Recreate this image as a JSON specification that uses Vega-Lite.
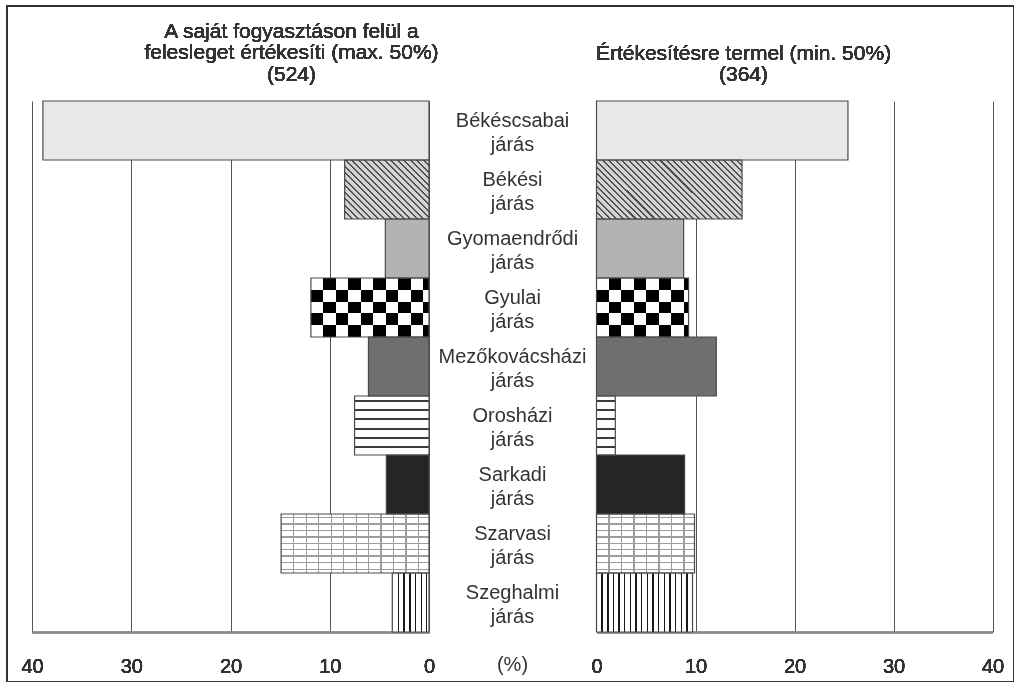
{
  "$schema": "https://vega.github.io/schema/vega-lite/v6.json",
  "width": 1007,
  "height": 676,
  "autosize": {"type": "none"},
  "padding": {"left": 7, "top": 6, "right": 0, "bottom": 0},
  "background": "white",
  "config": {"view": {"stroke": "#333333", "strokeWidth": 2}, "font": "Liberation Sans"},
  "data": {"values": [
    {"jaras": "Békéscsabai járás", "left": 38.9, "right": 25.4},
    {"jaras": "Békési járás", "left": 8.5, "right": 14.7},
    {"jaras": "Gyomaendrődi járás", "left": 4.4, "right": 8.8},
    {"jaras": "Gyulai járás", "left": 11.9, "right": 9.3},
    {"jaras": "Mezőkovácsházi járás", "left": 6.1, "right": 12.1},
    {"jaras": "Orosházi járás", "left": 7.5, "right": 1.9},
    {"jaras": "Sarkadi járás", "left": 4.3, "right": 8.9},
    {"jaras": "Szarvasi járás", "left": 14.9, "right": 9.9},
    {"jaras": "Szeghalmi járás", "left": 3.7, "right": 9.7}
  ]},
  "encoding": {
    "y": {
      "field": "jaras", "type": "nominal", "sort": null,
      "scale": {"domain": ["Békéscsabai járás","Békési járás","Gyomaendrődi járás","Gyulai járás","Mezőkovácsházi járás","Orosházi járás","Sarkadi járás","Szarvasi járás","Szeghalmi járás"], "range": [95, 626], "paddingInner": 0, "paddingOuter": 0},
      "axis": {"orient": "left", "offset": -505, "domain": false, "ticks": false, "tickSize": 0, "grid": false,
        "labelAlign": "center", "labelBaseline": "middle", "labelPadding": 0, "labelOffset": -9.5,
        "labelFont": "Liberation Sans", "labelFontSize": 20, "labelColor": "#333333", "labelLineHeight": 23.5,
        "labelExpr": "split(datum.label, ' ')", "labelOverlap": false, "labelBound": false, "labelLimit": 0,
        "title": "(%)", "titleX": 0, "titleY": 658, "titleAngle": 0, "titleAlign": "center", "titleBaseline": "middle",
        "titleFont": "Liberation Sans", "titleFontSize": 20, "titleFontWeight": "normal", "titleColor": "#333333"}
    }
  },
  "resolve": {"scale": {"x": "independent"}},
  "layer": [
    {
      "encoding": {
        "x": {"field": "left", "type": "quantitative", "stack": null,
          "scale": {"domain": [0, 40], "range": [422, 25], "nice": false, "zero": true},
          "axis": {"orient": "bottom", "offset": -50, "values": [0, 10, 20, 30, 40], "grid": false,
            "domain": true, "domainColor": "#8a8a8a", "domainWidth": 1.5, "ticks": false, "tickSize": 0, "labelFlush": false,
            "labelFont": "Liberation Sans", "labelFontSize": 20, "labelColor": "#333333", "labelPadding": 24,
            "title": ["A saját fogyasztáson felül a", "felesleget értékesíti (max. 50%)", "(524)"],
            "titleX": 284, "titleY": -601, "titleAlign": "center", "titleBaseline": "middle", "titleFont": "Liberation Sans",
            "titleFontSize": 21, "titleFontWeight": "normal", "titleColor": "#333333", "titleLineHeight": 21.5}
        }
      },
      "resolve": {"axis": {"x": "independent"}},
      "layer": [
        {"mark": {"type": "bar"},
         "encoding": {"color": {"field": "jaras", "type": "nominal", "legend": null,
           "scale": {"domain": ["Békéscsabai járás","Békési járás","Gyomaendrődi járás","Gyulai járás","Mezőkovácsházi járás","Orosházi járás","Sarkadi járás","Szarvasi járás","Szeghalmi járás"],
                     "range": ["#e8e8e8","#d2d2d2","#b3b3b3","#ffffff","#6f6f6f","#ffffff","#252525","#ffffff","#ffffff"]}}}},
        {"transform": [{"filter": {"field": "jaras", "equal": "Békési járás"}}],
         "mark": {"type": "bar", "fill": {"gradient": "linear", "x1": 0, "y1": 1, "x2": 1.141, "y2": 0.202, "stops": [
           {"offset":0,"color":"#505050"},{"offset":0.014,"color":"#505050"},{"offset":0.014,"color":"#d2d2d2"},{"offset":0.045,"color":"#d2d2d2"},
           {"offset":0.045,"color":"#505050"},{"offset":0.059,"color":"#505050"},{"offset":0.059,"color":"#d2d2d2"},{"offset":0.091,"color":"#d2d2d2"},
           {"offset":0.091,"color":"#505050"},{"offset":0.105,"color":"#505050"},{"offset":0.105,"color":"#d2d2d2"},{"offset":0.136,"color":"#d2d2d2"},
           {"offset":0.136,"color":"#505050"},{"offset":0.150,"color":"#505050"},{"offset":0.150,"color":"#d2d2d2"},{"offset":0.182,"color":"#d2d2d2"},
           {"offset":0.182,"color":"#505050"},{"offset":0.196,"color":"#505050"},{"offset":0.196,"color":"#d2d2d2"},{"offset":0.227,"color":"#d2d2d2"},
           {"offset":0.227,"color":"#505050"},{"offset":0.241,"color":"#505050"},{"offset":0.241,"color":"#d2d2d2"},{"offset":0.273,"color":"#d2d2d2"},
           {"offset":0.273,"color":"#505050"},{"offset":0.287,"color":"#505050"},{"offset":0.287,"color":"#d2d2d2"},{"offset":0.318,"color":"#d2d2d2"},
           {"offset":0.318,"color":"#505050"},{"offset":0.332,"color":"#505050"},{"offset":0.332,"color":"#d2d2d2"},{"offset":0.364,"color":"#d2d2d2"},
           {"offset":0.364,"color":"#505050"},{"offset":0.378,"color":"#505050"},{"offset":0.378,"color":"#d2d2d2"},{"offset":0.409,"color":"#d2d2d2"},
           {"offset":0.409,"color":"#505050"},{"offset":0.423,"color":"#505050"},{"offset":0.423,"color":"#d2d2d2"},{"offset":0.455,"color":"#d2d2d2"},
           {"offset":0.455,"color":"#505050"},{"offset":0.469,"color":"#505050"},{"offset":0.469,"color":"#d2d2d2"},{"offset":0.5,"color":"#d2d2d2"},
           {"offset":0.5,"color":"#505050"},{"offset":0.514,"color":"#505050"},{"offset":0.514,"color":"#d2d2d2"},{"offset":0.545,"color":"#d2d2d2"},
           {"offset":0.545,"color":"#505050"},{"offset":0.559,"color":"#505050"},{"offset":0.559,"color":"#d2d2d2"},{"offset":0.591,"color":"#d2d2d2"},
           {"offset":0.591,"color":"#505050"},{"offset":0.605,"color":"#505050"},{"offset":0.605,"color":"#d2d2d2"},{"offset":0.636,"color":"#d2d2d2"},
           {"offset":0.636,"color":"#505050"},{"offset":0.650,"color":"#505050"},{"offset":0.650,"color":"#d2d2d2"},{"offset":0.682,"color":"#d2d2d2"},
           {"offset":0.682,"color":"#505050"},{"offset":0.696,"color":"#505050"},{"offset":0.696,"color":"#d2d2d2"},{"offset":0.727,"color":"#d2d2d2"},
           {"offset":0.727,"color":"#505050"},{"offset":0.741,"color":"#505050"},{"offset":0.741,"color":"#d2d2d2"},{"offset":0.773,"color":"#d2d2d2"},
           {"offset":0.773,"color":"#505050"},{"offset":0.787,"color":"#505050"},{"offset":0.787,"color":"#d2d2d2"},{"offset":0.818,"color":"#d2d2d2"},
           {"offset":0.818,"color":"#505050"},{"offset":0.832,"color":"#505050"},{"offset":0.832,"color":"#d2d2d2"},{"offset":0.864,"color":"#d2d2d2"},
           {"offset":0.864,"color":"#505050"},{"offset":0.878,"color":"#505050"},{"offset":0.878,"color":"#d2d2d2"},{"offset":0.909,"color":"#d2d2d2"},
           {"offset":0.909,"color":"#505050"},{"offset":0.923,"color":"#505050"},{"offset":0.923,"color":"#d2d2d2"},{"offset":0.955,"color":"#d2d2d2"},
           {"offset":0.955,"color":"#505050"},{"offset":0.969,"color":"#505050"},{"offset":0.969,"color":"#d2d2d2"},{"offset":1,"color":"#d2d2d2"}
         ]}}},
        {"transform": [{"filter": {"field": "jaras", "equal": "Gyulai járás"}}],
         "mark": {"type": "bar", "fill": {"gradient": "linear", "x1": 0, "y1": 0, "x2": 1, "y2": 0, "stops": [
           {"offset":0,"color":"#ffffff"},{"offset":0.106,"color":"#ffffff"},{"offset":0.106,"color":"#000000"},{"offset":0.212,"color":"#000000"},
           {"offset":0.212,"color":"#ffffff"},{"offset":0.318,"color":"#ffffff"},{"offset":0.318,"color":"#000000"},{"offset":0.423,"color":"#000000"},
           {"offset":0.423,"color":"#ffffff"},{"offset":0.529,"color":"#ffffff"},{"offset":0.529,"color":"#000000"},{"offset":0.635,"color":"#000000"},
           {"offset":0.635,"color":"#ffffff"},{"offset":0.741,"color":"#ffffff"},{"offset":0.741,"color":"#000000"},{"offset":0.847,"color":"#000000"},
           {"offset":0.847,"color":"#ffffff"},{"offset":0.952,"color":"#ffffff"},{"offset":0.952,"color":"#000000"},{"offset":1,"color":"#000000"}
         ]}}},
        {"transform": [{"filter": {"field": "jaras", "equal": "Gyulai járás"}}],
         "mark": {"type": "bar", "blend": "difference", "fill": {"gradient": "linear", "x1": 0, "y1": 0, "x2": 0, "y2": 1, "stops": [
           {"offset":0,"color":"rgba(255,255,255,0)"},{"offset":0.2,"color":"rgba(255,255,255,0)"},{"offset":0.2,"color":"#ffffff"},{"offset":0.4,"color":"#ffffff"},
           {"offset":0.4,"color":"rgba(255,255,255,0)"},{"offset":0.6,"color":"rgba(255,255,255,0)"},{"offset":0.6,"color":"#ffffff"},{"offset":0.8,"color":"#ffffff"},
           {"offset":0.8,"color":"rgba(255,255,255,0)"},{"offset":1,"color":"rgba(255,255,255,0)"}
         ]}}},
        {"transform": [{"filter": {"field": "jaras", "equal": "Orosházi járás"}}],
         "mark": {"type": "bar", "fill": {"gradient": "linear", "x1": 0, "y1": 0, "x2": 0, "y2": 1, "stops": [
           {"offset":0,"color":"#ffffff"},{"offset":0.068,"color":"#ffffff"},{"offset":0.068,"color":"#3c3c3c"},{"offset":0.102,"color":"#3c3c3c"},
           {"offset":0.102,"color":"#ffffff"},{"offset":0.224,"color":"#ffffff"},{"offset":0.224,"color":"#3c3c3c"},{"offset":0.258,"color":"#3c3c3c"},
           {"offset":0.258,"color":"#ffffff"},{"offset":0.380,"color":"#ffffff"},{"offset":0.380,"color":"#3c3c3c"},{"offset":0.414,"color":"#3c3c3c"},
           {"offset":0.414,"color":"#ffffff"},{"offset":0.536,"color":"#ffffff"},{"offset":0.536,"color":"#3c3c3c"},{"offset":0.570,"color":"#3c3c3c"},
           {"offset":0.570,"color":"#ffffff"},{"offset":0.691,"color":"#ffffff"},{"offset":0.691,"color":"#3c3c3c"},{"offset":0.725,"color":"#3c3c3c"},
           {"offset":0.725,"color":"#ffffff"},{"offset":0.847,"color":"#ffffff"},{"offset":0.847,"color":"#3c3c3c"},{"offset":0.881,"color":"#3c3c3c"},
           {"offset":0.881,"color":"#ffffff"},{"offset":1,"color":"#ffffff"}
         ]}}},
        {"transform": [{"filter": {"field": "jaras", "equal": "Szarvasi járás"}}],
         "mark": {"type": "bar", "fill": {"gradient": "linear", "x1": 0, "y1": 0, "x2": 0, "y2": 1, "stops": [
           {"offset":0,"color":"#ffffff"},{"offset":0.046,"color":"#ffffff"},{"offset":0.046,"color":"#9d9d9d"},{"offset":0.068,"color":"#9d9d9d"},
           {"offset":0.068,"color":"#ffffff"},{"offset":0.160,"color":"#ffffff"},{"offset":0.160,"color":"#9d9d9d"},{"offset":0.182,"color":"#9d9d9d"},
           {"offset":0.182,"color":"#ffffff"},{"offset":0.268,"color":"#ffffff"},{"offset":0.268,"color":"#9d9d9d"},{"offset":0.290,"color":"#9d9d9d"},
           {"offset":0.290,"color":"#ffffff"},{"offset":0.378,"color":"#ffffff"},{"offset":0.378,"color":"#9d9d9d"},{"offset":0.400,"color":"#9d9d9d"},
           {"offset":0.400,"color":"#ffffff"},{"offset":0.486,"color":"#ffffff"},{"offset":0.486,"color":"#9d9d9d"},{"offset":0.508,"color":"#9d9d9d"},
           {"offset":0.508,"color":"#ffffff"},{"offset":0.593,"color":"#ffffff"},{"offset":0.593,"color":"#9d9d9d"},{"offset":0.615,"color":"#9d9d9d"},
           {"offset":0.615,"color":"#ffffff"},{"offset":0.703,"color":"#ffffff"},{"offset":0.703,"color":"#9d9d9d"},{"offset":0.725,"color":"#9d9d9d"},
           {"offset":0.725,"color":"#ffffff"},{"offset":0.816,"color":"#ffffff"},{"offset":0.816,"color":"#9d9d9d"},{"offset":0.838,"color":"#9d9d9d"},
           {"offset":0.838,"color":"#ffffff"},{"offset":0.931,"color":"#ffffff"},{"offset":0.931,"color":"#9d9d9d"},{"offset":0.953,"color":"#9d9d9d"},
           {"offset":0.953,"color":"#ffffff"},{"offset":1,"color":"#ffffff"}
         ]}}},
        {"transform": [{"filter": {"field": "jaras", "equal": "Szarvasi járás"}}],
         "mark": {"type": "bar", "fill": {"gradient": "linear", "x1": 0, "y1": 0, "x2": 1, "y2": 0, "stops": [
           {"offset":0,"color":"rgba(157,157,157,0)"},{"offset":0.080,"color":"rgba(157,157,157,0)"},{"offset":0.080,"color":"#9d9d9d"},{"offset":0.089,"color":"#9d9d9d"},
           {"offset":0.089,"color":"rgba(157,157,157,0)"},{"offset":0.165,"color":"rgba(157,157,157,0)"},{"offset":0.165,"color":"#9d9d9d"},{"offset":0.174,"color":"#9d9d9d"},
           {"offset":0.174,"color":"rgba(157,157,157,0)"},{"offset":0.249,"color":"rgba(157,157,157,0)"},{"offset":0.249,"color":"#9d9d9d"},{"offset":0.258,"color":"#9d9d9d"},
           {"offset":0.258,"color":"rgba(157,157,157,0)"},{"offset":0.334,"color":"rgba(157,157,157,0)"},{"offset":0.334,"color":"#9d9d9d"},{"offset":0.343,"color":"#9d9d9d"},
           {"offset":0.343,"color":"rgba(157,157,157,0)"},{"offset":0.418,"color":"rgba(157,157,157,0)"},{"offset":0.418,"color":"#9d9d9d"},{"offset":0.427,"color":"#9d9d9d"},
           {"offset":0.427,"color":"rgba(157,157,157,0)"},{"offset":0.503,"color":"rgba(157,157,157,0)"},{"offset":0.503,"color":"#9d9d9d"},{"offset":0.512,"color":"#9d9d9d"},
           {"offset":0.512,"color":"rgba(157,157,157,0)"},{"offset":0.587,"color":"rgba(157,157,157,0)"},{"offset":0.587,"color":"#9d9d9d"},{"offset":0.596,"color":"#9d9d9d"},
           {"offset":0.596,"color":"rgba(157,157,157,0)"},{"offset":0.672,"color":"rgba(157,157,157,0)"},{"offset":0.672,"color":"#9d9d9d"},{"offset":0.681,"color":"#9d9d9d"},
           {"offset":0.681,"color":"rgba(157,157,157,0)"},{"offset":0.756,"color":"rgba(157,157,157,0)"},{"offset":0.756,"color":"#9d9d9d"},{"offset":0.765,"color":"#9d9d9d"},
           {"offset":0.765,"color":"rgba(157,157,157,0)"},{"offset":0.841,"color":"rgba(157,157,157,0)"},{"offset":0.841,"color":"#9d9d9d"},{"offset":0.850,"color":"#9d9d9d"},
           {"offset":0.850,"color":"rgba(157,157,157,0)"},{"offset":0.925,"color":"rgba(157,157,157,0)"},{"offset":0.925,"color":"#9d9d9d"},{"offset":0.934,"color":"#9d9d9d"},
           {"offset":0.934,"color":"rgba(157,157,157,0)"},{"offset":1,"color":"rgba(157,157,157,0)"}
         ]}}},
        {"transform": [{"filter": {"field": "jaras", "equal": "Szeghalmi járás"}}],
         "mark": {"type": "bar", "fill": {"gradient": "linear", "x1": 0, "y1": 0, "x2": 1, "y2": 0, "stops": [
           {"offset":0,"color":"#ffffff"},{"offset":0.145,"color":"#ffffff"},{"offset":0.145,"color":"#1a1a1a"},{"offset":0.181,"color":"#1a1a1a"},
           {"offset":0.181,"color":"#ffffff"},{"offset":0.301,"color":"#ffffff"},{"offset":0.301,"color":"#1a1a1a"},{"offset":0.337,"color":"#1a1a1a"},
           {"offset":0.337,"color":"#ffffff"},{"offset":0.464,"color":"#ffffff"},{"offset":0.464,"color":"#1a1a1a"},{"offset":0.500,"color":"#1a1a1a"},
           {"offset":0.500,"color":"#ffffff"},{"offset":0.620,"color":"#ffffff"},{"offset":0.620,"color":"#1a1a1a"},{"offset":0.656,"color":"#1a1a1a"},
           {"offset":0.656,"color":"#ffffff"},{"offset":0.772,"color":"#ffffff"},{"offset":0.772,"color":"#1a1a1a"},{"offset":0.808,"color":"#1a1a1a"},
           {"offset":0.808,"color":"#ffffff"},{"offset":0.919,"color":"#ffffff"},{"offset":0.919,"color":"#1a1a1a"},{"offset":0.955,"color":"#1a1a1a"},
           {"offset":0.955,"color":"#ffffff"},{"offset":1,"color":"#ffffff"}
         ]}}},
        {"mark": {"type": "bar", "fill": "transparent", "stroke": "#4a4a4a", "strokeWidth": 1.2},
         "encoding": {"x": {"field": "left", "type": "quantitative", "stack": null,
           "axis": {"orient": "top", "values": [0, 10, 20, 30, 40], "grid": true, "gridColor": "#555555", "gridWidth": 1,
             "domain": false, "ticks": false, "labels": false, "title": null, "offset": 0}}}}
      ]
    },
    {
      "encoding": {
        "x": {"field": "right", "type": "quantitative", "stack": null,
          "scale": {"domain": [0, 40], "range": [589.5, 985.5], "nice": false, "zero": true},
          "axis": {"orient": "bottom", "offset": -50, "values": [0, 10, 20, 30, 40], "grid": false,
            "domain": true, "domainColor": "#8a8a8a", "domainWidth": 1.5, "ticks": false, "tickSize": 0, "labelFlush": false,
            "labelFont": "Liberation Sans", "labelFontSize": 20, "labelColor": "#333333", "labelPadding": 24,
            "title": ["Értékesítésre termel (min. 50%)", "(364)"],
            "titleX": 736, "titleY": -579, "titleAlign": "center", "titleBaseline": "middle", "titleFont": "Liberation Sans",
            "titleFontSize": 21, "titleFontWeight": "normal", "titleColor": "#333333", "titleLineHeight": 21.5}
        }
      },
      "resolve": {"axis": {"x": "independent"}},
      "layer": [
        {"mark": {"type": "bar"},
         "encoding": {"color": {"field": "jaras", "type": "nominal", "legend": null,
           "scale": {"domain": ["Békéscsabai járás","Békési járás","Gyomaendrődi járás","Gyulai járás","Mezőkovácsházi járás","Orosházi járás","Sarkadi járás","Szarvasi járás","Szeghalmi járás"],
                     "range": ["#e8e8e8","#d2d2d2","#b3b3b3","#ffffff","#6f6f6f","#ffffff","#252525","#ffffff","#ffffff"]}}}},
        {"transform": [{"filter": {"field": "jaras", "equal": "Békési járás"}}],
         "mark": {"type": "bar", "fill": {"gradient": "linear", "x1": 0, "y1": 1, "x2": 1.207, "y2": 0.51, "stops": [
           {"offset":0,"color":"#505050"},{"offset":0.01,"color":"#505050"},{"offset":0.01,"color":"#d2d2d2"},{"offset":0.031,"color":"#d2d2d2"},
           {"offset":0.031,"color":"#505050"},{"offset":0.041,"color":"#505050"},{"offset":0.041,"color":"#d2d2d2"},{"offset":0.063,"color":"#d2d2d2"},
           {"offset":0.063,"color":"#505050"},{"offset":0.073,"color":"#505050"},{"offset":0.073,"color":"#d2d2d2"},{"offset":0.094,"color":"#d2d2d2"},
           {"offset":0.094,"color":"#505050"},{"offset":0.104,"color":"#505050"},{"offset":0.104,"color":"#d2d2d2"},{"offset":0.125,"color":"#d2d2d2"},
           {"offset":0.125,"color":"#505050"},{"offset":0.135,"color":"#505050"},{"offset":0.135,"color":"#d2d2d2"},{"offset":0.156,"color":"#d2d2d2"},
           {"offset":0.156,"color":"#505050"},{"offset":0.166,"color":"#505050"},{"offset":0.166,"color":"#d2d2d2"},{"offset":0.188,"color":"#d2d2d2"},
           {"offset":0.188,"color":"#505050"},{"offset":0.198,"color":"#505050"},{"offset":0.198,"color":"#d2d2d2"},{"offset":0.219,"color":"#d2d2d2"},
           {"offset":0.219,"color":"#505050"},{"offset":0.229,"color":"#505050"},{"offset":0.229,"color":"#d2d2d2"},{"offset":0.25,"color":"#d2d2d2"},
           {"offset":0.25,"color":"#505050"},{"offset":0.26,"color":"#505050"},{"offset":0.26,"color":"#d2d2d2"},{"offset":0.281,"color":"#d2d2d2"},
           {"offset":0.281,"color":"#505050"},{"offset":0.291,"color":"#505050"},{"offset":0.291,"color":"#d2d2d2"},{"offset":0.313,"color":"#d2d2d2"},
           {"offset":0.313,"color":"#505050"},{"offset":0.323,"color":"#505050"},{"offset":0.323,"color":"#d2d2d2"},{"offset":0.344,"color":"#d2d2d2"},
           {"offset":0.344,"color":"#505050"},{"offset":0.354,"color":"#505050"},{"offset":0.354,"color":"#d2d2d2"},{"offset":0.375,"color":"#d2d2d2"},
           {"offset":0.375,"color":"#505050"},{"offset":0.385,"color":"#505050"},{"offset":0.385,"color":"#d2d2d2"},{"offset":0.406,"color":"#d2d2d2"},
           {"offset":0.406,"color":"#505050"},{"offset":0.416,"color":"#505050"},{"offset":0.416,"color":"#d2d2d2"},{"offset":0.438,"color":"#d2d2d2"},
           {"offset":0.438,"color":"#505050"},{"offset":0.448,"color":"#505050"},{"offset":0.448,"color":"#d2d2d2"},{"offset":0.469,"color":"#d2d2d2"},
           {"offset":0.469,"color":"#505050"},{"offset":0.479,"color":"#505050"},{"offset":0.479,"color":"#d2d2d2"},{"offset":0.5,"color":"#d2d2d2"},
           {"offset":0.5,"color":"#505050"},{"offset":0.51,"color":"#505050"},{"offset":0.51,"color":"#d2d2d2"},{"offset":0.531,"color":"#d2d2d2"},
           {"offset":0.531,"color":"#505050"},{"offset":0.541,"color":"#505050"},{"offset":0.541,"color":"#d2d2d2"},{"offset":0.563,"color":"#d2d2d2"},
           {"offset":0.563,"color":"#505050"},{"offset":0.573,"color":"#505050"},{"offset":0.573,"color":"#d2d2d2"},{"offset":0.594,"color":"#d2d2d2"},
           {"offset":0.594,"color":"#505050"},{"offset":0.604,"color":"#505050"},{"offset":0.604,"color":"#d2d2d2"},{"offset":0.625,"color":"#d2d2d2"},
           {"offset":0.625,"color":"#505050"},{"offset":0.635,"color":"#505050"},{"offset":0.635,"color":"#d2d2d2"},{"offset":0.656,"color":"#d2d2d2"},
           {"offset":0.656,"color":"#505050"},{"offset":0.666,"color":"#505050"},{"offset":0.666,"color":"#d2d2d2"},{"offset":0.688,"color":"#d2d2d2"},
           {"offset":0.688,"color":"#505050"},{"offset":0.698,"color":"#505050"},{"offset":0.698,"color":"#d2d2d2"},{"offset":0.719,"color":"#d2d2d2"},
           {"offset":0.719,"color":"#505050"},{"offset":0.729,"color":"#505050"},{"offset":0.729,"color":"#d2d2d2"},{"offset":0.75,"color":"#d2d2d2"},
           {"offset":0.75,"color":"#505050"},{"offset":0.76,"color":"#505050"},{"offset":0.76,"color":"#d2d2d2"},{"offset":0.781,"color":"#d2d2d2"},
           {"offset":0.781,"color":"#505050"},{"offset":0.791,"color":"#505050"},{"offset":0.791,"color":"#d2d2d2"},{"offset":0.813,"color":"#d2d2d2"},
           {"offset":0.813,"color":"#505050"},{"offset":0.823,"color":"#505050"},{"offset":0.823,"color":"#d2d2d2"},{"offset":0.844,"color":"#d2d2d2"},
           {"offset":0.844,"color":"#505050"},{"offset":0.854,"color":"#505050"},{"offset":0.854,"color":"#d2d2d2"},{"offset":0.875,"color":"#d2d2d2"},
           {"offset":0.875,"color":"#505050"},{"offset":0.885,"color":"#505050"},{"offset":0.885,"color":"#d2d2d2"},{"offset":0.906,"color":"#d2d2d2"},
           {"offset":0.906,"color":"#505050"},{"offset":0.916,"color":"#505050"},{"offset":0.916,"color":"#d2d2d2"},{"offset":0.938,"color":"#d2d2d2"},
           {"offset":0.938,"color":"#505050"},{"offset":0.948,"color":"#505050"},{"offset":0.948,"color":"#d2d2d2"},{"offset":0.969,"color":"#d2d2d2"},
           {"offset":0.969,"color":"#505050"},{"offset":0.979,"color":"#505050"},{"offset":0.979,"color":"#d2d2d2"},{"offset":1,"color":"#d2d2d2"}
         ]}}},
        {"transform": [{"filter": {"field": "jaras", "equal": "Gyulai járás"}}],
         "mark": {"type": "bar", "fill": {"gradient": "linear", "x1": 0, "y1": 0, "x2": 1, "y2": 0, "stops": [
           {"offset":0,"color":"#ffffff"},{"offset":0.136,"color":"#ffffff"},{"offset":0.136,"color":"#000000"},{"offset":0.271,"color":"#000000"},
           {"offset":0.271,"color":"#ffffff"},{"offset":0.407,"color":"#ffffff"},{"offset":0.407,"color":"#000000"},{"offset":0.543,"color":"#000000"},
           {"offset":0.543,"color":"#ffffff"},{"offset":0.679,"color":"#ffffff"},{"offset":0.679,"color":"#000000"},{"offset":0.814,"color":"#000000"},
           {"offset":0.814,"color":"#ffffff"},{"offset":0.950,"color":"#ffffff"},{"offset":0.950,"color":"#000000"},{"offset":1,"color":"#000000"}
         ]}}},
        {"transform": [{"filter": {"field": "jaras", "equal": "Gyulai járás"}}],
         "mark": {"type": "bar", "blend": "difference", "fill": {"gradient": "linear", "x1": 0, "y1": 0, "x2": 0, "y2": 1, "stops": [
           {"offset":0,"color":"rgba(255,255,255,0)"},{"offset":0.2,"color":"rgba(255,255,255,0)"},{"offset":0.2,"color":"#ffffff"},{"offset":0.4,"color":"#ffffff"},
           {"offset":0.4,"color":"rgba(255,255,255,0)"},{"offset":0.6,"color":"rgba(255,255,255,0)"},{"offset":0.6,"color":"#ffffff"},{"offset":0.8,"color":"#ffffff"},
           {"offset":0.8,"color":"rgba(255,255,255,0)"},{"offset":1,"color":"rgba(255,255,255,0)"}
         ]}}},
        {"transform": [{"filter": {"field": "jaras", "equal": "Orosházi járás"}}],
         "mark": {"type": "bar", "fill": {"gradient": "linear", "x1": 0, "y1": 0, "x2": 0, "y2": 1, "stops": [
           {"offset":0,"color":"#ffffff"},{"offset":0.068,"color":"#ffffff"},{"offset":0.068,"color":"#3c3c3c"},{"offset":0.102,"color":"#3c3c3c"},
           {"offset":0.102,"color":"#ffffff"},{"offset":0.224,"color":"#ffffff"},{"offset":0.224,"color":"#3c3c3c"},{"offset":0.258,"color":"#3c3c3c"},
           {"offset":0.258,"color":"#ffffff"},{"offset":0.380,"color":"#ffffff"},{"offset":0.380,"color":"#3c3c3c"},{"offset":0.414,"color":"#3c3c3c"},
           {"offset":0.414,"color":"#ffffff"},{"offset":0.536,"color":"#ffffff"},{"offset":0.536,"color":"#3c3c3c"},{"offset":0.570,"color":"#3c3c3c"},
           {"offset":0.570,"color":"#ffffff"},{"offset":0.691,"color":"#ffffff"},{"offset":0.691,"color":"#3c3c3c"},{"offset":0.725,"color":"#3c3c3c"},
           {"offset":0.725,"color":"#ffffff"},{"offset":0.847,"color":"#ffffff"},{"offset":0.847,"color":"#3c3c3c"},{"offset":0.881,"color":"#3c3c3c"},
           {"offset":0.881,"color":"#ffffff"},{"offset":1,"color":"#ffffff"}
         ]}}},
        {"transform": [{"filter": {"field": "jaras", "equal": "Szarvasi járás"}}],
         "mark": {"type": "bar", "fill": {"gradient": "linear", "x1": 0, "y1": 0, "x2": 0, "y2": 1, "stops": [
           {"offset":0,"color":"#ffffff"},{"offset":0.046,"color":"#ffffff"},{"offset":0.046,"color":"#9d9d9d"},{"offset":0.068,"color":"#9d9d9d"},
           {"offset":0.068,"color":"#ffffff"},{"offset":0.160,"color":"#ffffff"},{"offset":0.160,"color":"#9d9d9d"},{"offset":0.182,"color":"#9d9d9d"},
           {"offset":0.182,"color":"#ffffff"},{"offset":0.268,"color":"#ffffff"},{"offset":0.268,"color":"#9d9d9d"},{"offset":0.290,"color":"#9d9d9d"},
           {"offset":0.290,"color":"#ffffff"},{"offset":0.378,"color":"#ffffff"},{"offset":0.378,"color":"#9d9d9d"},{"offset":0.400,"color":"#9d9d9d"},
           {"offset":0.400,"color":"#ffffff"},{"offset":0.486,"color":"#ffffff"},{"offset":0.486,"color":"#9d9d9d"},{"offset":0.508,"color":"#9d9d9d"},
           {"offset":0.508,"color":"#ffffff"},{"offset":0.593,"color":"#ffffff"},{"offset":0.593,"color":"#9d9d9d"},{"offset":0.615,"color":"#9d9d9d"},
           {"offset":0.615,"color":"#ffffff"},{"offset":0.703,"color":"#ffffff"},{"offset":0.703,"color":"#9d9d9d"},{"offset":0.725,"color":"#9d9d9d"},
           {"offset":0.725,"color":"#ffffff"},{"offset":0.816,"color":"#ffffff"},{"offset":0.816,"color":"#9d9d9d"},{"offset":0.838,"color":"#9d9d9d"},
           {"offset":0.838,"color":"#ffffff"},{"offset":0.931,"color":"#ffffff"},{"offset":0.931,"color":"#9d9d9d"},{"offset":0.953,"color":"#9d9d9d"},
           {"offset":0.953,"color":"#ffffff"},{"offset":1,"color":"#ffffff"}
         ]}}},
        {"transform": [{"filter": {"field": "jaras", "equal": "Szarvasi járás"}}],
         "mark": {"type": "bar", "fill": {"gradient": "linear", "x1": 0, "y1": 0, "x2": 1, "y2": 0, "stops": [
           {"offset":0,"color":"rgba(157,157,157,0)"},{"offset":0.121,"color":"rgba(157,157,157,0)"},{"offset":0.121,"color":"#9d9d9d"},{"offset":0.134,"color":"#9d9d9d"},
           {"offset":0.134,"color":"rgba(157,157,157,0)"},{"offset":0.248,"color":"rgba(157,157,157,0)"},{"offset":0.248,"color":"#9d9d9d"},{"offset":0.262,"color":"#9d9d9d"},
           {"offset":0.262,"color":"rgba(157,157,157,0)"},{"offset":0.376,"color":"rgba(157,157,157,0)"},{"offset":0.376,"color":"#9d9d9d"},{"offset":0.390,"color":"#9d9d9d"},
           {"offset":0.390,"color":"rgba(157,157,157,0)"},{"offset":0.503,"color":"rgba(157,157,157,0)"},{"offset":0.503,"color":"#9d9d9d"},{"offset":0.517,"color":"#9d9d9d"},
           {"offset":0.517,"color":"rgba(157,157,157,0)"},{"offset":0.631,"color":"rgba(157,157,157,0)"},{"offset":0.631,"color":"#9d9d9d"},{"offset":0.645,"color":"#9d9d9d"},
           {"offset":0.645,"color":"rgba(157,157,157,0)"},{"offset":0.758,"color":"rgba(157,157,157,0)"},{"offset":0.758,"color":"#9d9d9d"},{"offset":0.772,"color":"#9d9d9d"},
           {"offset":0.772,"color":"rgba(157,157,157,0)"},{"offset":0.886,"color":"rgba(157,157,157,0)"},{"offset":0.886,"color":"#9d9d9d"},{"offset":0.900,"color":"#9d9d9d"},
           {"offset":0.900,"color":"rgba(157,157,157,0)"},{"offset":1,"color":"rgba(157,157,157,0)"}
         ]}}},
        {"transform": [{"filter": {"field": "jaras", "equal": "Szeghalmi járás"}}],
         "mark": {"type": "bar", "fill": {"gradient": "linear", "x1": 0, "y1": 0, "x2": 1, "y2": 0, "stops": [
           {"offset":0,"color":"#ffffff"},{"offset":0.052,"color":"#ffffff"},{"offset":0.052,"color":"#1a1a1a"},{"offset":0.066,"color":"#1a1a1a"},
           {"offset":0.066,"color":"#ffffff"},{"offset":0.111,"color":"#ffffff"},{"offset":0.111,"color":"#1a1a1a"},{"offset":0.125,"color":"#1a1a1a"},
           {"offset":0.125,"color":"#ffffff"},{"offset":0.170,"color":"#ffffff"},{"offset":0.170,"color":"#1a1a1a"},{"offset":0.184,"color":"#1a1a1a"},
           {"offset":0.184,"color":"#ffffff"},{"offset":0.228,"color":"#ffffff"},{"offset":0.228,"color":"#1a1a1a"},{"offset":0.242,"color":"#1a1a1a"},
           {"offset":0.242,"color":"#ffffff"},{"offset":0.287,"color":"#ffffff"},{"offset":0.287,"color":"#1a1a1a"},{"offset":0.301,"color":"#1a1a1a"},
           {"offset":0.301,"color":"#ffffff"},{"offset":0.346,"color":"#ffffff"},{"offset":0.346,"color":"#1a1a1a"},{"offset":0.360,"color":"#1a1a1a"},
           {"offset":0.360,"color":"#ffffff"},{"offset":0.405,"color":"#ffffff"},{"offset":0.405,"color":"#1a1a1a"},{"offset":0.419,"color":"#1a1a1a"},
           {"offset":0.419,"color":"#ffffff"},{"offset":0.464,"color":"#ffffff"},{"offset":0.464,"color":"#1a1a1a"},{"offset":0.478,"color":"#1a1a1a"},
           {"offset":0.478,"color":"#ffffff"},{"offset":0.522,"color":"#ffffff"},{"offset":0.522,"color":"#1a1a1a"},{"offset":0.536,"color":"#1a1a1a"},
           {"offset":0.536,"color":"#ffffff"},{"offset":0.581,"color":"#ffffff"},{"offset":0.581,"color":"#1a1a1a"},{"offset":0.595,"color":"#1a1a1a"},
           {"offset":0.595,"color":"#ffffff"},{"offset":0.640,"color":"#ffffff"},{"offset":0.640,"color":"#1a1a1a"},{"offset":0.654,"color":"#1a1a1a"},
           {"offset":0.654,"color":"#ffffff"},{"offset":0.699,"color":"#ffffff"},{"offset":0.699,"color":"#1a1a1a"},{"offset":0.713,"color":"#1a1a1a"},
           {"offset":0.713,"color":"#ffffff"},{"offset":0.758,"color":"#ffffff"},{"offset":0.758,"color":"#1a1a1a"},{"offset":0.772,"color":"#1a1a1a"},
           {"offset":0.772,"color":"#ffffff"},{"offset":0.817,"color":"#ffffff"},{"offset":0.817,"color":"#1a1a1a"},{"offset":0.831,"color":"#1a1a1a"},
           {"offset":0.831,"color":"#ffffff"},{"offset":0.875,"color":"#ffffff"},{"offset":0.875,"color":"#1a1a1a"},{"offset":0.889,"color":"#1a1a1a"},
           {"offset":0.889,"color":"#ffffff"},{"offset":0.934,"color":"#ffffff"},{"offset":0.934,"color":"#1a1a1a"},{"offset":0.948,"color":"#1a1a1a"},
           {"offset":0.948,"color":"#ffffff"},{"offset":1,"color":"#ffffff"}
         ]}}},
        {"mark": {"type": "bar", "fill": "transparent", "stroke": "#4a4a4a", "strokeWidth": 1.2},
         "encoding": {"x": {"field": "right", "type": "quantitative", "stack": null,
           "axis": {"orient": "top", "values": [0, 10, 20, 30, 40], "grid": true, "gridColor": "#555555", "gridWidth": 1,
             "domain": false, "ticks": false, "labels": false, "title": null, "offset": 0}}}}
      ]
    }
  ]
}
